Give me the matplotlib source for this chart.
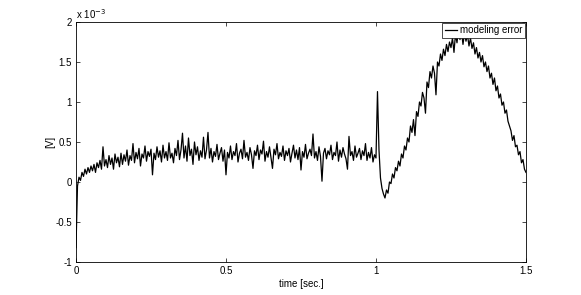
import numpy as np
import matplotlib
matplotlib.use("Agg")
import matplotlib.pyplot as plt

plt.rcParams['font.family'] = ['Liberation Sans', 'DejaVu Sans']

# sample spacing of the hand-read trace [sec.]
dt = 0.005

# modeling error, in units of 1e-3 V (10 samples per row)
err = [
    -0.82, -0.05, 0.06, 0.02, 0.12, 0.07, 0.16, 0.10, 0.18, 0.12,
    0.20, 0.14, 0.22, 0.12, 0.24, 0.18, 0.27, 0.16, 0.44, 0.20,
    0.28, 0.18, 0.33, 0.22, 0.30, 0.16, 0.35, 0.24, 0.31, 0.19,
    0.36, 0.22, 0.34, 0.26, 0.40, 0.21, 0.33, 0.27, 0.48, 0.24,
    0.37, 0.29, 0.42, 0.20, 0.35, 0.30, 0.45, 0.26, 0.38, 0.32,
    0.41, 0.09, 0.36, 0.28, 0.44, 0.31, 0.39, 0.25, 0.46, 0.30,
    0.38, 0.27, 0.49, 0.30, 0.36, 0.24, 0.42, 0.33, 0.52, 0.28,
    0.40, 0.61, 0.30, 0.45, 0.26, 0.55, 0.33, 0.41, 0.22, 0.50,
    0.34, 0.44, 0.27, 0.39, 0.31, 0.56, 0.29, 0.40, 0.62, 0.30,
    0.42, 0.25, 0.38, 0.32, 0.47, 0.28, 0.36, 0.43, 0.26, 0.40,
    0.09, 0.37, 0.30, 0.45, 0.28, 0.38, 0.33, 0.48, 0.25, 0.36,
    0.41, 0.29, 0.52, 0.31, 0.37, 0.27, 0.43, 0.34, 0.17, 0.39,
    0.33, 0.46, 0.28, 0.40, 0.35, 0.51, 0.26, 0.38, 0.31, 0.44,
    0.30, 0.17, 0.41, 0.34, 0.48, 0.29, 0.37, 0.32, 0.45, 0.27,
    0.39, 0.33, 0.42, 0.25, 0.36, 0.46, 0.30, 0.40, 0.28, 0.43,
    0.15, 0.38, 0.31, 0.47, 0.29, 0.36, 0.41, 0.33, 0.60, 0.30,
    0.38, 0.27, 0.44, 0.32, 0.01, 0.36, 0.42, 0.29, 0.39, 0.34,
    0.46, 0.28, 0.37, 0.33, 0.50, 0.26, 0.40, 0.31, 0.43, 0.35,
    0.29, 0.16, 0.57, 0.33, 0.38, 0.27, 0.45, 0.31, 0.36, 0.42,
    0.28, 0.39, 0.33, 0.48, 0.27, 0.37, 0.30, 0.43, 0.25, 0.34,
    0.30, 1.13, 0.40, 0.05, -0.08, -0.15, -0.20, -0.10, -0.14, 0.00,
    -0.02, 0.10, 0.05, 0.18, 0.14, 0.26, 0.20, 0.35, 0.30, 0.45,
    0.40, 0.55, 0.50, 0.70, 0.62, 0.78, 0.58, 0.88, 0.82, 1.00,
    0.95, 1.12, 1.05, 0.86, 1.25, 1.18, 1.38, 1.30, 1.45, 1.36,
    1.09, 1.50, 1.45, 1.60, 1.52, 1.66, 1.58, 1.72, 1.63, 1.75,
    1.68, 1.80, 1.62, 1.85, 1.74, 1.90, 1.78, 1.88, 1.72, 1.86,
    1.76, 1.84, 1.70, 1.80, 1.67, 1.74, 1.60, 1.68, 1.55, 1.62,
    1.50, 1.58, 1.44, 1.50, 1.38, 1.45, 1.30, 1.36, 1.22, 1.30,
    1.14, 1.20, 1.05, 1.10, 0.96, 1.00, 0.86, 0.90, 0.76, 0.70,
    0.64, 0.52, 0.58, 0.44, 0.46, 0.34, 0.38, 0.24, 0.28, 0.16,
    0.12,
]
t = np.arange(len(err)) * dt

xticks = [0, 0.5, 1, 1.5]
xticklabels = ['0', '0.5', '1', '1.5']
yticks = [-1, -0.5, 0, 0.5, 1, 1.5, 2]
yticklabels = ['-1', '-0.5', '0', '0.5', '1', '1.5', '2']

fig = plt.figure(figsize=(5.81, 2.95), dpi=100)
ax = fig.add_axes([0.1308, 0.1119, 0.7745, 0.8135])

ax.plot(t, err, color='black', linewidth=0.9, label='modeling error')

ax.set_xlim(0, 1.5)
ax.set_ylim(-1, 2)
ax.set_xticks(xticks)
ax.set_xticklabels(xticklabels)
ax.set_yticks(yticks)
ax.set_yticklabels(yticklabels)
ax.tick_params(direction='in', length=3, width=0.5, labelsize=7,
               top=True, right=True, pad=3)
for s in ax.spines.values():
    s.set_linewidth(0.6)

ax.text(0.0, 1.005, 'x 10$^{-3}$', transform=ax.transAxes, fontsize=7,
        ha='left', va='bottom')

ax.set_xlabel('time [sec.]', fontsize=7, labelpad=2)
ax.set_ylabel('[V]', fontsize=7)
ax.yaxis.set_label_coords(-0.047, 0.5)

leg = ax.legend(loc='upper right', fontsize=7, fancybox=False,
                borderaxespad=0.1, handlelength=1.3, handletextpad=0.3,
                borderpad=0.25, framealpha=1)
leg.get_frame().set_edgecolor('black')
leg.get_frame().set_linewidth(0.5)

fig.savefig('out.png', dpi=100)
